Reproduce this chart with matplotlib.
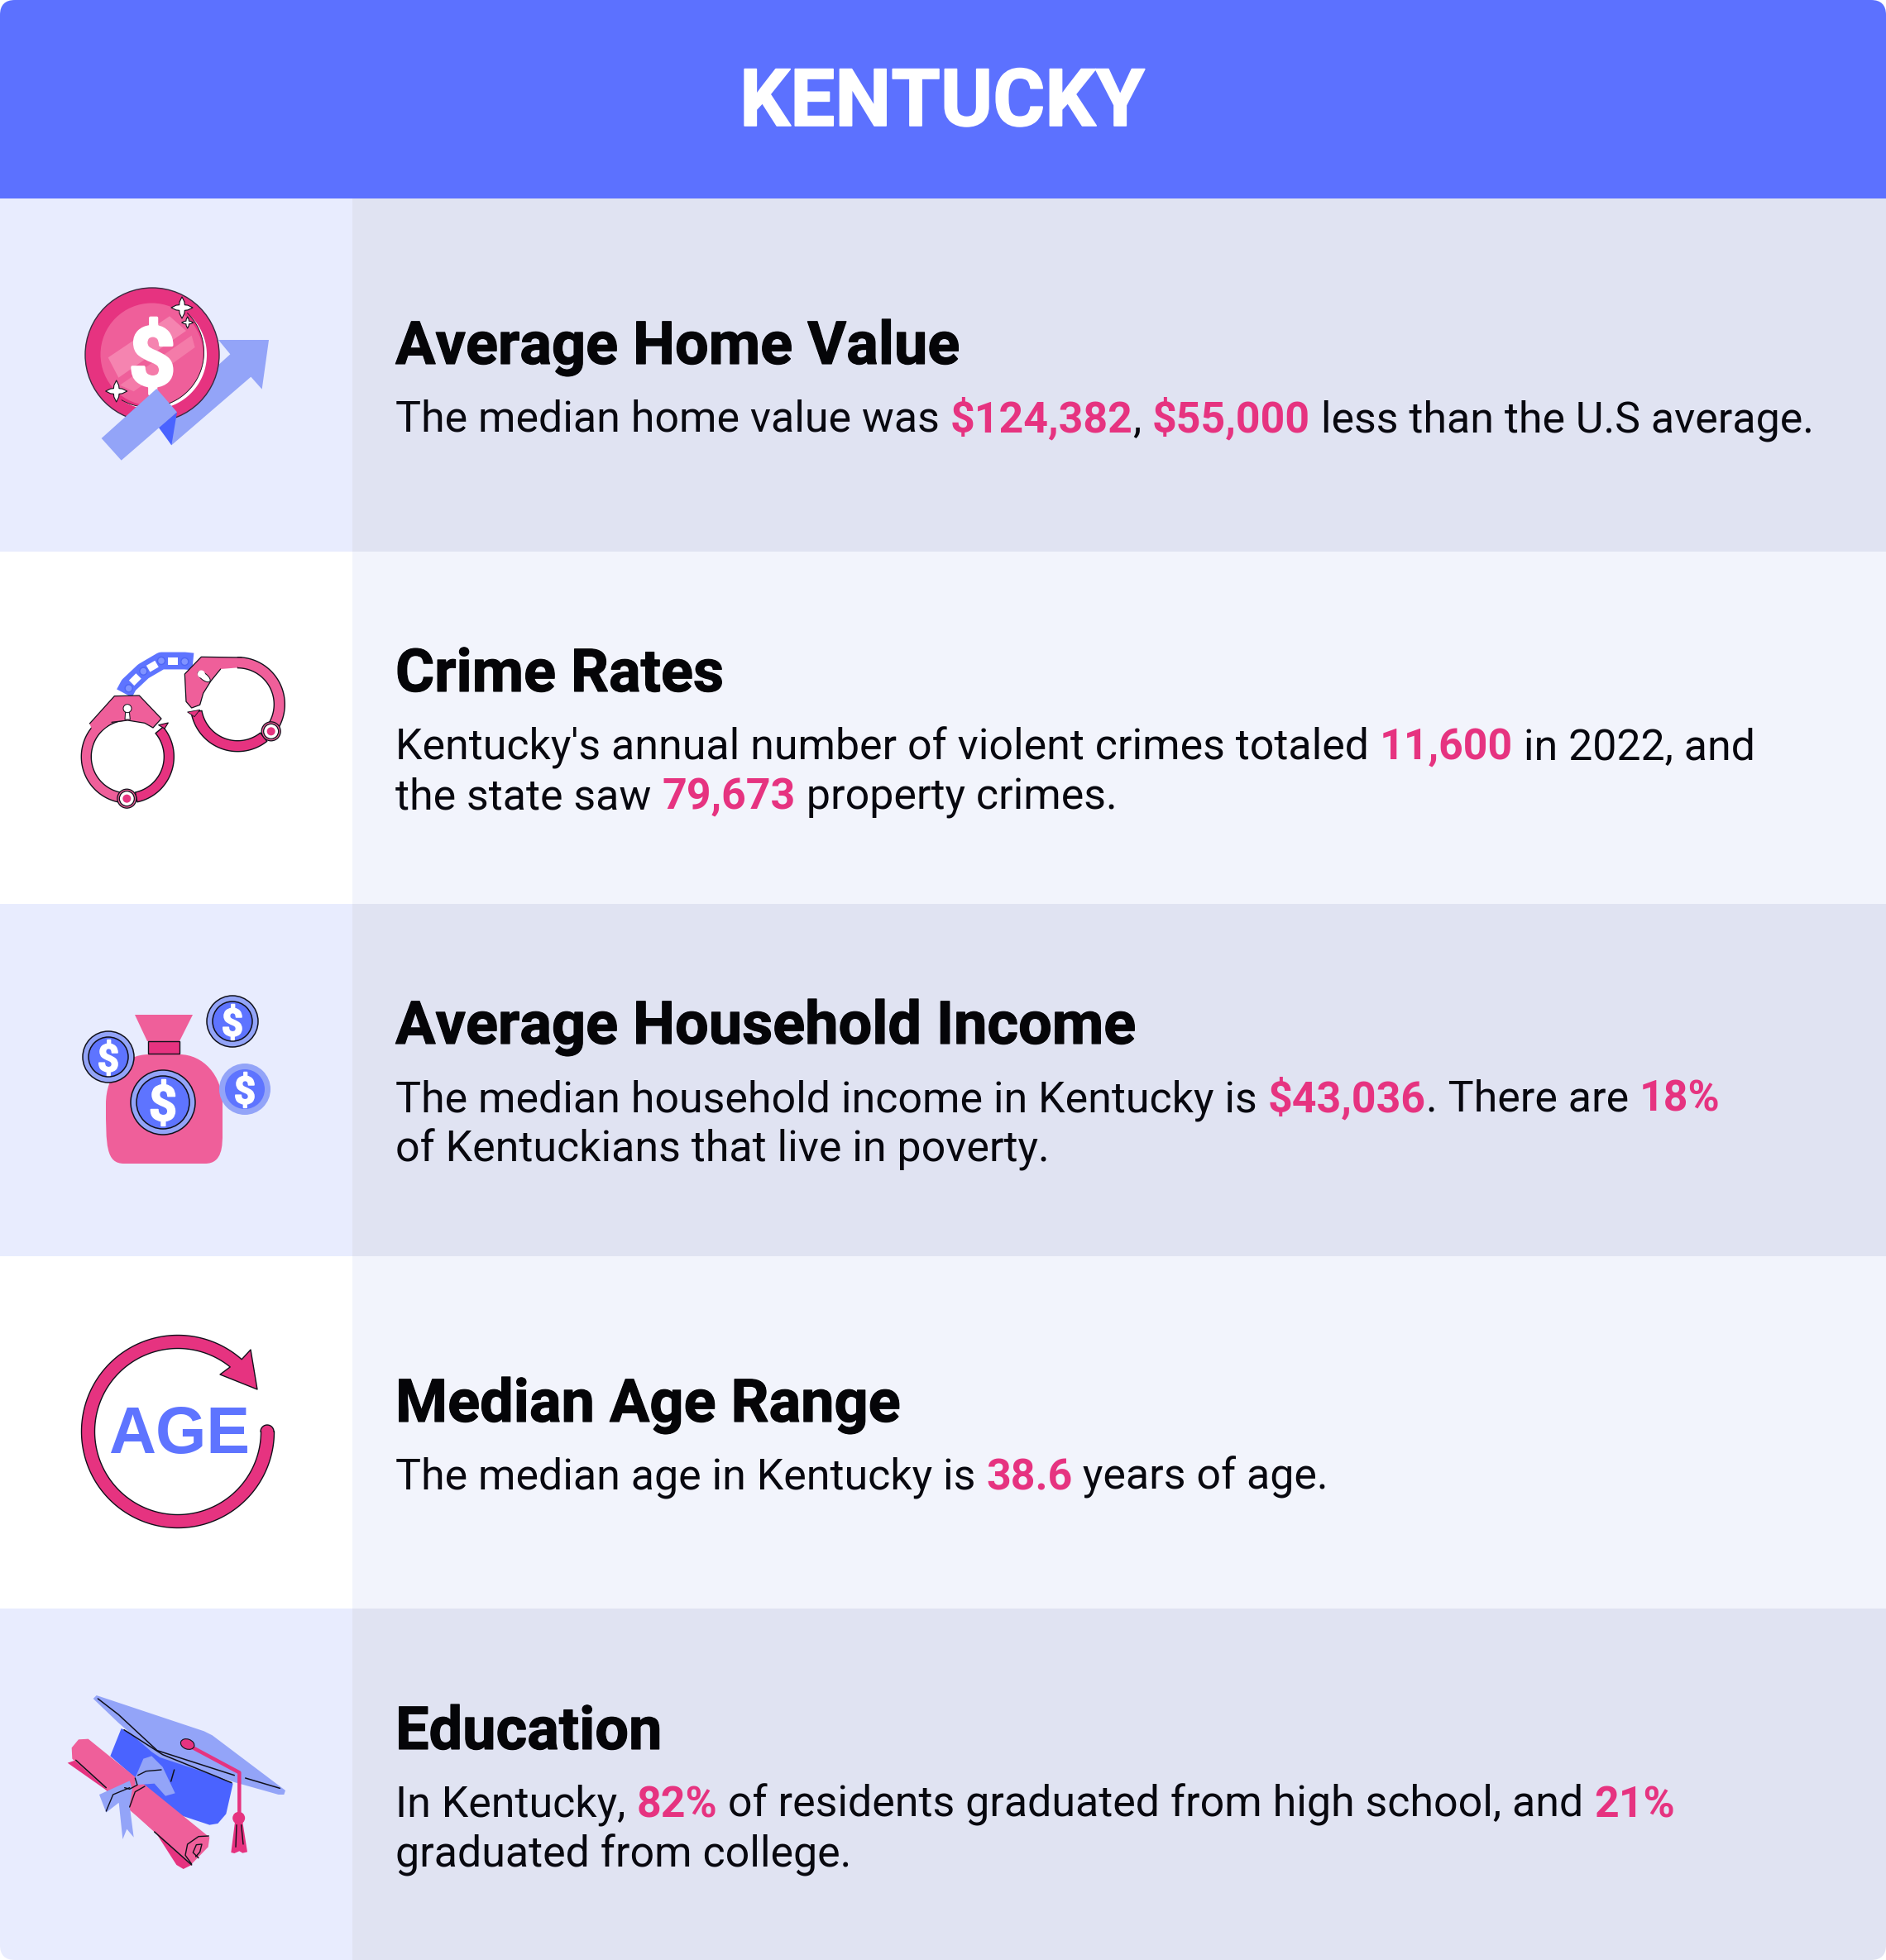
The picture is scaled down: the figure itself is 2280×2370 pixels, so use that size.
import numpy as np
import matplotlib
matplotlib.use("Agg")
import matplotlib.pyplot as plt
import matplotlib.patheffects as pe
from matplotlib.patches import Polygon, Circle, Ellipse, Rectangle, FancyBboxPatch, PathPatch
from matplotlib.path import Path
from matplotlib.font_manager import FontProperties

# ---- content ----
title = "KENTUCKY"
headings = ["Average Home Value", "Crime Rates", "Average Household Income",
            "Median Age Range", "Education"]
row1_lines = [[("The median home value was ", 0), ("$124,382", 1), (", ", 0), ("$55,000", 1),
               (" less than the U.S average.", 0)]]
row2_lines = [[("Kentucky's annual number of violent crimes totaled ", 0), ("11,600", 1), (" in 2022, and", 0)],
              [("the state saw ", 0), ("79,673", 1), (" property crimes.", 0)]]
row3_lines = [[("The median household income in Kentucky is ", 0), ("$43,036", 1), (". There are ", 0), ("18%", 1)],
              [("of Kentuckians that live in poverty.", 0)]]
row4_lines = [[("The median age in Kentucky is ", 0), ("38.6", 1), (" years of age.", 0)]]
row5_lines = [[("In Kentucky, ", 0), ("82%", 1), (" of residents graduated from high school, and ", 0), ("21%", 1)],
              [("graduated from college.", 0)]]
bodies = [row1_lines, row2_lines, row3_lines, row4_lines, row5_lines]

# ---- style ----
W, H = 2280, 2370
HEADER = "#5C71FF"
LEFT = ["#E8ECFE", "#FFFFFF", "#E8ECFE", "#FFFFFF", "#E8ECFE"]
RIGHT = ["#E0E3F2", "#F2F4FC", "#E0E3F2", "#F2F4FC", "#E0E3F2"]
PINK = "#E63380"
LPINK = "#EF5F9A"
PALE = "#F584B0"
PERI = "#93A4F8"
BLUE = "#5E74FF"
DBLUE = "#4A63FF"
INK = "#10101A"
row_edges = [240, 667, 1093, 1519, 1945, 2370]
head_base = [440, 836, 1262, 1719, 2115]
COL = 426
TX = 478

fig = plt.figure(figsize=(W / 100, H / 100), dpi=100, facecolor="white")
ax = fig.add_axes([0, 0, 1, 1])
ax.set_xlim(0, W)
ax.set_ylim(H, 0)
ax.axis("off")

clip = FancyBboxPatch((0, 0), W, H, boxstyle="round,pad=0,rounding_size=18",
                      transform=ax.transData, fc="none", ec="none")
ax.add_patch(clip)


def add_rect(x0, y0, x1, y1, c):
    r = Rectangle((x0, y0), x1 - x0, y1 - y0, fc=c, ec="none", zorder=1)
    ax.add_patch(r)
    r.set_clip_path(clip)


add_rect(0, 0, W, 240, HEADER)
for i in range(5):
    add_rect(0, row_edges[i], COL, row_edges[i + 1], LEFT[i])
    add_rect(COL, row_edges[i], W, row_edges[i + 1], RIGHT[i])

# ---- text ----
FAM = "Roboto"
TITLE_PT, HEAD_PT, BODY_PT = 69.3, 51.9, 37.4
renderer = fig.canvas.get_renderer()


def measure(s, fp):
    w1 = renderer.get_text_width_height_descent(s + ".", fp, False)[0]
    w0 = renderer.get_text_width_height_descent(".", fp, False)[0]
    return w1 - w0


ax.text(W / 2 - 1, 152, title, family=FAM, weight="bold", fontsize=TITLE_PT, color="white",
        ha="center", va="baseline", zorder=5,
        path_effects=[pe.withStroke(linewidth=1.2, foreground="white")])
for i in range(5):
    ax.text(TX, head_base[i], headings[i], family=FAM, weight="bold", fontsize=HEAD_PT, color="#050508",
            ha="left", va="baseline", zorder=5,
            path_effects=[pe.withStroke(linewidth=0.8, foreground="#050508")])
    for j, line_segs in enumerate(bodies[i]):
        x = TX
        y = head_base[i] + 82 + j * 60.5
        for seg, hi in line_segs:
            wt = "bold" if hi else "normal"
            fp = FontProperties(family=FAM, weight=wt, size=BODY_PT)
            ax.text(x, y, seg, fontproperties=fp, color=PINK if hi else "#08080F",
                    ha="left", va="baseline", zorder=5)
            x += measure(seg, fp)


# ---- icon helpers (pixel space) ----
def poly(pts, c, z=3, ec="none", lw=0):
    ax.add_patch(Polygon(pts, closed=True, fc=c, ec=ec, lw=lw, zorder=z, joinstyle="round"))


def circ(x, y, r, c, z=3, ec="none", lw=0):
    ax.add_patch(Circle((x, y), r, fc=c, ec=ec, lw=lw, zorder=z))


def arc_xy(cx, cy, r, a0, a1, n=100):
    t = np.radians(np.linspace(a0, a1, n))
    return np.c_[cx + r * np.cos(t), cy - r * np.sin(t)]


def ring(cx, cy, r0, r1, a0, a1, c, z=3, ec="none", lw=0):
    poly(np.r_[arc_xy(cx, cy, r1, a0, a1), arc_xy(cx, cy, r0, a1, a0)], c, z, ec, lw)


def sparkle(x, y, r, z=6):
    pts = []
    for k in range(16):
        a = np.pi / 8 * k
        f = abs(np.cos(2 * a))
        pts.append((x + r * (0.36 + 0.64 * f ** 3) * np.cos(a), y + r * (0.36 + 0.64 * f ** 3) * np.sin(a)))
    poly(pts, "white", z, INK, 0.8)


def line(pts, c=INK, lw=1.2, z=7, cap="round"):
    p = np.array(pts)
    ax.plot(p[:, 0], p[:, 1], color=c, lw=lw, zorder=z, solid_capstyle=cap, solid_joinstyle="round")


def dollar(x, y, px, z=8, c="white", stroke=1.5):
    ax.text(x, y, "$", family=FAM, weight="bold", fontsize=px * 0.72, color=c, ha="center",
            va="center_baseline", zorder=z, path_effects=[pe.withStroke(linewidth=stroke, foreground=c)])


def zm(ox, oy, pts):
    a = np.array(pts, float)
    return np.c_[ox + a[:, 0] / 3, oy + a[:, 1] / 3]


# icon 1: coin and arrow
c1 = lambda p: zm(90, 335, p)
poly(c1([(705, 228), (522, 228), (565, 280), (300, 520), (352, 610), (640, 362), (680, 407)]), PERI, 3)
circ(184, 429, 81, PINK, 4, "#3A2A40", 1.0)
circ(183.5, 428.5, 62, LPINK, 4)
poly(c1([(122, 292), (345, 142), (405, 195), (160, 365)]), PALE, 4)
poly(c1([(165, 392), (425, 212), (437, 255), (215, 415)]), "#F47BA9", 4)
t = np.linspace(0, 1, 80)
ang = np.radians(50 - 174 * t)
rin = 66 - 4.5 * np.sin(np.pi * t)
poly(np.r_[np.c_[184 + 66 * np.cos(ang), 429 - 66 * np.sin(ang)],
           np.c_[184 + rin[::-1] * np.cos(ang[::-1]), 429 - rin[::-1] * np.sin(ang[::-1])]], "white", 5)
line(np.c_[184 + rin * np.cos(ang), 429 - rin * np.sin(ang)], INK, 0.6, 5)
dollar(184, 429, 99, 6, stroke=2.5)
sparkle(220, 372, 13)
sparkle(226.7, 390, 7)
sparkle(140.7, 473, 13)
poly(c1([(372, 490), (352, 610), (305, 545)]), DBLUE, 7)
poly(c1([(98, 585), (298, 405), (372, 490), (170, 665)]), PERI, 7)

# icon 2: handcuffs
c2 = lambda p: zm(85, 775, p)
line(c2([(196, 190), (212, 160), (265, 110), (330, 72), (415, 72), (445, 75)]), BLUE, 15, 3, "butt")
for (x, y), a in zip([(235, 140), (298, 92), (372, 72)], [-45, -30, 0]):
    ax.add_patch(Rectangle((85 + x / 3 - 6, 775 + y / 3 - 4.5), 12, 9, fc="white", ec="none", zorder=3.1,
                           transform=matplotlib.transforms.Affine2D().rotate_deg_around(
                               85 + x / 3, 775 + y / 3, a) + ax.transData))
for x, y in [(212, 172), (265, 110), (330, 72), (415, 75)]:
    circ(85 + x / 3, 775 + y / 3, 4.5, "#8093FF", 3.2, "#4E66F5", 1.0)

LC, LR = (154.3, 915), (287.3, 851.7)
ring(*LC, 44, 56, 95, 272, LPINK, 4, INK, 1.0)
poly(c2([(160, 200), (250, 198), (330, 282), (300, 315), (270, 298), (208, 288), (150, 295), (88, 345), (70, 300)]),
     LPINK, 5)
line(c2([(70, 300), (160, 200), (250, 198), (330, 282), (300, 315), (270, 298), (208, 288), (150, 295)]), INK, 0.9, 5.5)
ring(*LC, 44, 56, -78, 40, PINK, 4, INK, 1.0)
poly(c2([(320, 305), (355, 297), (342, 318)]), PINK, 4, INK, 0.8)
poly(c2([(200, 255), (214, 255), (217, 285), (198, 285)]), "white", 6, INK, 0.7)
circ(*c2([(207, 245)])[0], 5, "white", 6, INK, 0.7)
circ(*c2([(205, 572)])[0], 11.5, LPINK, 5, INK, 0.9)
circ(*c2([(205, 572)])[0], 9, "white", 6, INK, 0.9)
circ(*c2([(205, 572)])[0], 5, PINK, 7)
ring(*LR, 44, 57, -36, 90, LPINK, 4, INK, 1.0)
poly(c2([(415, 120), (475, 58), (620, 60), (607, 97), (545, 102), (510, 145), (482, 190), (470, 232), (440, 243), (420, 220)]),
     LPINK, 5)
line(c2([(620, 60), (475, 58), (415, 120), (420, 220), (440, 243), (470, 232), (482, 190), (510, 145), (545, 102)]), INK, 0.9, 5.5)
ring(*LR, 44, 57, 190, 308.5, PINK, 4, INK, 1.0)
poly(c2([(425, 258), (470, 250), (450, 275)]), PINK, 4, INK, 0.6)
ax.add_patch(Ellipse(tuple(c2([(485, 130)])[0]), 18, 8, angle=38, fc="white", ec=INK, lw=0.7, zorder=6))
circ(*c2([(475, 120)])[0], 4.5, "white", 6)
circ(*c2([(728, 328)])[0], 11.5, LPINK, 5, INK, 0.9)
circ(*c2([(728, 328)])[0], 9, "white", 6, INK, 0.9)
circ(*c2([(728, 328)])[0], 5, PINK, 7)

# icon 3: money bag
bag = Path([(180, 1275), (217, 1275), (245, 1275), (269, 1300), (269, 1335), (269, 1370), (269, 1385), (269, 1407),
            (248, 1407), (150, 1407), (128, 1407), (128, 1385), (128, 1335), (128, 1300), (150, 1275), (180, 1275)],
           [Path.MOVETO, Path.LINETO, Path.CURVE4, Path.CURVE4, Path.CURVE4, Path.LINETO, Path.CURVE4, Path.CURVE4,
            Path.CURVE4, Path.LINETO, Path.CURVE4, Path.CURVE4, Path.LINETO, Path.CURVE4, Path.CURVE4, Path.CURVE4])
ax.add_patch(PathPatch(bag, fc=LPINK, ec="none", zorder=3))
poly([(163, 1227), (233, 1227), (217, 1259), (178, 1259)], LPINK, 3)
ax.add_patch(Rectangle((179, 1259), 38, 15, fc=PINK, ec=INK, lw=1.0, zorder=4))
for cx, cy, r0, r1, outlined, px in [(197, 1333, 32, 39, True, 60), (131, 1278, 24, 31, True, 46),
                                     (281, 1235, 24, 31, True, 46), (296, 1317, 24, 31, False, 46)]:
    circ(cx, cy, r1, PERI, 5, INK if outlined else "none", 1.1 if outlined else 0)
    circ(cx, cy, r0, BLUE, 5, INK if outlined else "none", 1.1 if outlined else 0)
    dollar(cx, cy, px, 6, stroke=1.2)

# icon 4: age ring (single outline including cap and arrow head)
ac = (215, 1731)
outline = np.r_[arc_xy(*ac, 116.5, 0, -311.5, 200),
                [(303, 1632), (311, 1680), (266, 1662)],
                arc_xy(*ac, 100.5, -309, 0, 200),
                arc_xy(323, 1731, 8, 180, 0, 20)]
poly(outline, PINK, 4, INK, 1.0)
ax.text(217, 1757, "AGE", family="Liberation Sans", weight="bold", fontsize=79 * 0.72, color=BLUE,
        ha="center", va="baseline", zorder=6)

# icon 5: cap and diploma
g = lambda p: zm(0, 1950, p)
poly(g([(440, 420), (845, 620), (820, 730), (790, 765), (760, 770), (640, 730), (400, 520)]), DBLUE, 3)
poly(g([(338, 312), (350, 300), (740, 430), (770, 445), (1035, 645), (1030, 660), (1010, 660), (850, 615),
        (580, 525), (550, 505), (430, 400)]), PERI, 4)
line(g([(355, 312), (430, 370), (570, 500), (850, 590)]), INK, 1.1, 5)
line(g([(890, 600), (1015, 637)]), INK, 1.1, 5)
line(g([(450, 425), (590, 515), (840, 617)]), INK, 1.1, 5)
line(g([(632, 570), (620, 612)]), INK, 1.1, 5)
poly(g([(245, 545), (275, 535), (385, 635), (560, 795), (695, 915), (665, 930), (640, 915), (560, 790), (380, 640)]), PINK, 5)
poly(g([(260, 490), (285, 460), (320, 458), (760, 815), (755, 850), (695, 912), (560, 795), (380, 635), (262, 530)]), LPINK, 6)
line(g([(275, 535), (385, 635)]), INK, 1.1, 7)
line(g([(560, 795), (695, 915)]), INK, 1.1, 7)
line(g([(695, 912), (672, 880), (680, 840), (720, 812), (757, 810)]), INK, 1.0, 7)
line(g([(720, 890), (700, 870), (712, 842), (732, 840), (725, 868), (710, 885)]), INK, 1.0, 7)
poly(g([(490, 600), (520, 530), (550, 520), (590, 560), (635, 655), (600, 665), (560, 620), (490, 625)]), PERI, 8)
poly(g([(360, 660), (470, 610), (480, 640), (470, 700), (430, 690), (385, 725)]), PERI, 8)
poly(g([(430, 680), (470, 700), (485, 815), (460, 785), (445, 822)]), PERI, 8)
line(g([(500, 590), (530, 575), (585, 570)]), INK, 1.0, 9)
line(g([(385, 720), (410, 660), (470, 635)]), INK, 1.0, 9)
line(g([(470, 705), (490, 650), (525, 630)]), INK, 1.0, 9)
line(g([(490, 600), (498, 625), (470, 640), (452, 635)]), INK, 1.0, 9)
line(g([(700, 490), (868, 580), (868, 730)]), PINK, 3.2, 6)
ax.add_patch(Ellipse(tuple(g([(680, 477)])[0]), 17, 12, angle=20, fc=PINK, ec=INK, lw=0.8, zorder=7))
poly(g([(852, 760), (880, 760), (897, 868), (880, 872), (868, 865), (850, 873), (838, 870)]), PINK, 6)
circ(866 / 3, 1950 + 745 / 3, 7.5, PINK, 7)
line(g([(858, 770), (855, 850)]), INK, 1.0, 8)
line(g([(875, 770), (882, 840)]), INK, 1.0, 8)

fig.savefig("out.png", dpi=100, facecolor="white")
